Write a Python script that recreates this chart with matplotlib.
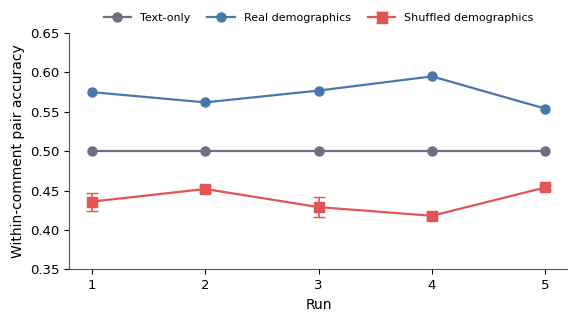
import numpy as np
import matplotlib.pyplot as plt

runs = [1, 2, 3, 4, 5]
text_only = [0.500, 0.500, 0.500, 0.500, 0.500]
real_demo = [0.575, 0.562, 0.577, 0.595, 0.554]
shuffled_demo = [0.436, 0.452, 0.429, 0.418, 0.454]
shuffled_err = [0.0115, 0.004, 0.013, 0.0045, 0.0035]

fig, ax = plt.subplots(figsize=(5.68, 3.15), dpi=100)

ax.plot(runs, text_only, color='#6b7080', marker='o', markersize=6.5, linewidth=1.6, label='Text-only')
ax.plot(runs, real_demo, color='#4a77aa', marker='o', markersize=6.5, linewidth=1.6, label='Real demographics')
ax.errorbar(runs, shuffled_demo, yerr=shuffled_err, color='#e35555', marker='s', markersize=7,
            linewidth=1.6, capsize=4, elinewidth=1.2, label='Shuffled demographics')

ax.set_xlim(0.8, 5.2)
ax.set_ylim(0.35, 0.65)
ax.set_xticks(runs)
ax.set_yticks(np.arange(0.35, 0.651, 0.05))
ax.set_yticklabels([f'{v:.2f}' for v in np.arange(0.35, 0.651, 0.05)])
ax.set_xlabel('Run', fontsize=10)
ax.set_ylabel('Within-comment pair accuracy', fontsize=10)
ax.tick_params(labelsize=9.5)

for s in ['top', 'right']:
    ax.spines[s].set_visible(False)
for s in ['left', 'bottom']:
    ax.spines[s].set_color('#555555')

ax.legend(loc='lower center', bbox_to_anchor=(0.5, 1.0), ncol=3, frameon=False, fontsize=8,
          handlelength=2.5, columnspacing=1.5)

fig.subplots_adjust(left=0.122, right=1.0, top=0.895, bottom=0.145)
fig.savefig('out.png', dpi=100)
